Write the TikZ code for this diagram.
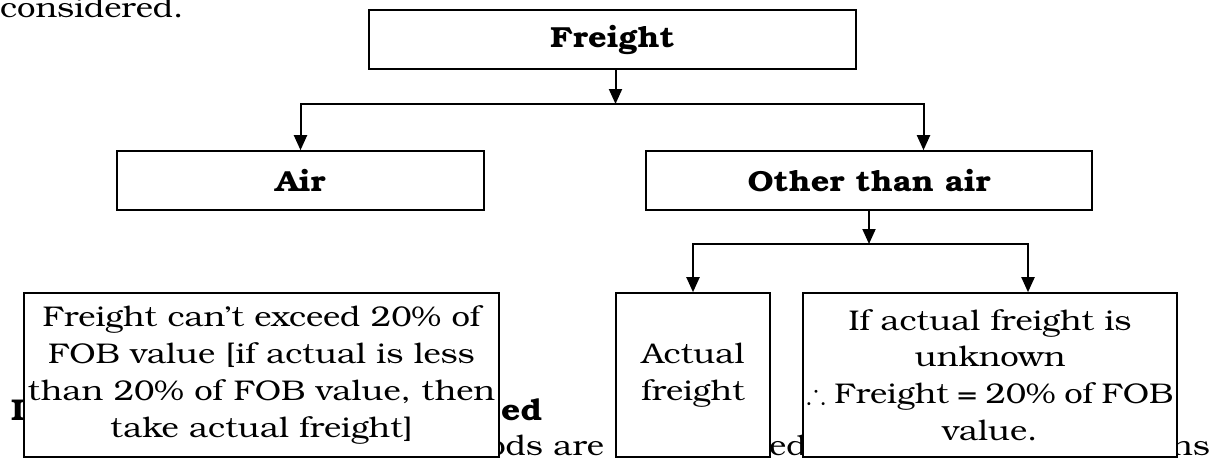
\documentclass[tikz,border=0pt]{standalone}
\usepackage{amssymb}
\usepackage{fontspec}
\setmainfont{TeX Gyre Bonum}[FakeStretch=1.15]
\newfontfamily\headfont{TeX Gyre Bonum}[FakeStretch=1.12]
\usetikzlibrary{arrows.meta}
\begin{document}
\begin{tikzpicture}[x=1pt,y=-1pt,
  box/.style={draw, line width=1.6pt, fill=white, align=center, inner sep=0pt,
    font=\fontsize{28.5}{36.7}\selectfont},
  head/.style={box, font=\fontsize{29}{34}\selectfont\headfont\bfseries},
  conn/.style={line width=2pt},
  tip/.tip={Triangle[length=15pt,width=13pt]},
  arr/.style={conn, -tip},
  pagetext/.style={inner sep=0pt, font=\fontsize{28.5}{30}\selectfont},
  pagehead/.style={inner sep=0pt, font=\fontsize{30}{34}\selectfont\headfont\bfseries}]
\useasboundingbox (0,0) rectangle (1215,461);
\clip (0,0) rectangle (1215,461);
% page text fragments (behind the boxes)
\node[pagetext, anchor=base west] (considered) at (0,17) {considered.};
\node[pagehead, anchor=base west] (hI) at (11,420) {I};
\node[pagehead, anchor=base west] (hed) at (501,420) {ed};
\node[pagetext, anchor=base east] (t1) at (604,455) {ods are};
\node[pagetext, anchor=base west] (t2) at (769,455) {ed.};
\node[pagetext, anchor=base east] (t3) at (1210,455) {ns};
% boxes
\node[head, minimum width=487pt, minimum height=59pt] (freight) at (612.5,39.5) {Freight};
\node[head, minimum width=367pt, minimum height=59pt] (air) at (300.5,180.5) {Air};
\node[head, minimum width=446pt, minimum height=59pt] (other) at (869,180.5) {Other than air};
\node[box, minimum width=475pt, minimum height=164pt] (fob) at (261.5,375)
  {Freight can’t exceed 20\% of\\FOB value [if actual is less\\than 20\% of FOB value, then\\take actual freight]};
\node[box, minimum width=154pt, minimum height=164pt] (actual) at (693,375)
  {Actual\\freight};
\node[box, minimum width=374pt, minimum height=164pt] (unknown) at (990,375)
  {If actual freight is\\unknown\\{\spaceskip=0.3em\relax $\therefore$ Freight = 20\% of FOB}\\value.};
% connectors
\coordinate (j1) at (615.5,104);
\coordinate (j1l) at (300.5,104);
\coordinate (j1r) at (923.5,104);
\coordinate (j2) at (869,244);
\coordinate (j2l) at (693,244);
\coordinate (j2r) at (1028,244);
\draw[arr] (freight.south -| j1) -- (j1);
\draw[conn, tip-tip] (air.north) -- (j1l) -- (j1r) -- (j1r |- other.north);
\draw[arr] (other.south) -- (j2);
\draw[conn, tip-tip] (actual.north) -- (j2l) -- (j2r) -- (j2r |- unknown.north);
\end{tikzpicture}
\end{document}
